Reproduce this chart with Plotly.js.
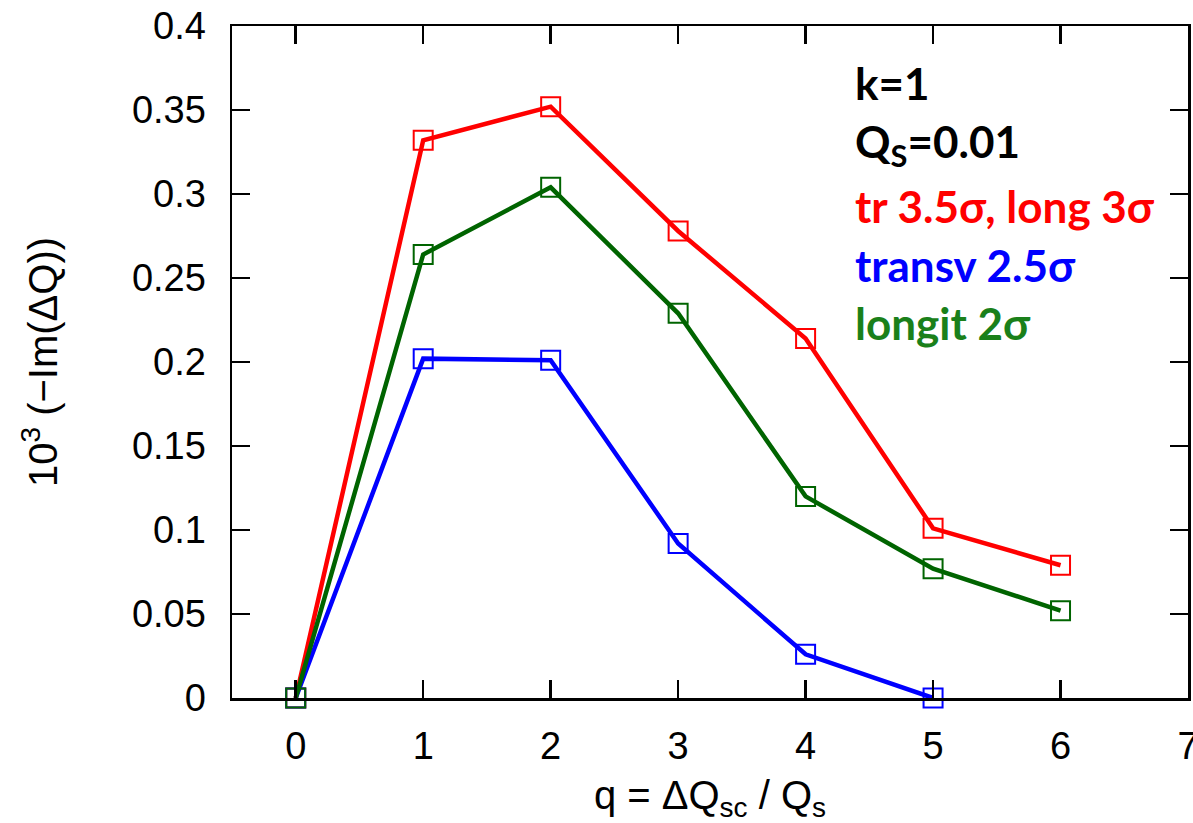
<!DOCTYPE html>
<html>
<head>
<meta charset="utf-8">
<script src="https://cdn.plot.ly/plotly-3.0.1.min.js"></script>
<style>html,body{margin:0;padding:0;background:#fff;}#chart{width:1193px;height:823px;}</style>
</head>
<body>
<div id="chart"></div>
<script>
const q = [0, 1, 2, 3, 4, 5, 6];
const redVals = [0, 0.332, 0.352, 0.278, 0.214, 0.101, 0.079];
const greenVals = [0, 0.264, 0.304, 0.229, 0.120, 0.077, 0.052];
const blueQ = [0, 1, 2, 3, 4, 5];
const blueVals = [0, 0.202, 0.201, 0.092, 0.026, 0.0];

const xTicks = [0, 1, 2, 3, 4, 5, 6, 7];
const yTicks = [0, 0.05, 0.1, 0.15, 0.2, 0.25, 0.3, 0.35, 0.4];
const yTickText = ['0', '0.05', '0.1', '0.15', '0.2', '0.25', '0.3', '0.35', '0.4'];

const labels = ['k=1', 'Q<sub>S</sub>=0.01', 'tr 3.5σ, long 3σ', 'transv 2.5σ', 'longit 2σ'];
const labelColors = ['#000000', '#000000', '#ff0000', '#0000ff', '#1a801a'];
const labelY = [0.915, 0.823, 0.732, 0.644, 0.558];

function series(x, y, color) {
  return {
    x: x, y: y, type: 'scatter', mode: 'lines+markers',
    line: {color: color, width: 4.5},
    marker: {symbol: 'square-open', size: 19, color: color, line: {color: color, width: 2}},
    showlegend: false, cliponaxis: false
  };
}

const data = [
  series(q, redVals, '#ff0000'),
  series(blueQ, blueVals, '#0000ff'),
  series(q, greenVals, '#006400')
];

const tickFont = {family: 'Liberation Sans, Arial, sans-serif', size: 38, color: '#000'};
const titleFont = {family: 'Liberation Sans, Arial, sans-serif', size: 40, color: '#000'};

const layout = {
  width: 1193, height: 823,
  margin: {l: 232, r: 5, t: 26, b: 125},
  paper_bgcolor: '#fff', plot_bgcolor: '#fff',
  font: tickFont,
  xaxis: {
    range: [-0.5, 7], tickvals: xTicks, ticktext: xTicks.map(String),
    ticks: 'inside', ticklen: 18, tickwidth: 2.5, tickcolor: '#000',
    showline: true, linewidth: 2.5, linecolor: '#000', mirror: 'ticks',
    showgrid: false, zeroline: false, tickfont: tickFont, ticklabelstandoff: 13,
    ticklabeloverflow: 'allow',
    title: {text: 'q = ΔQ<sub>sc</sub> / Q<sub>s</sub>', font: titleFont, standoff: 20}
  },
  yaxis: {
    range: [0, 0.4], tickvals: yTicks, ticktext: yTickText,
    ticks: 'inside', ticklen: 18, tickwidth: 2.5, tickcolor: '#000',
    showline: true, linewidth: 2.5, linecolor: '#000', mirror: 'ticks',
    showgrid: false, zeroline: false, tickfont: tickFont, ticklabelstandoff: 16,
    title: {text: '10<sup>3</sup> (−Im(ΔQ))', font: titleFont, standoff: 62}
  },
  annotations: labels.map((t, i) => ({
    text: '<b>' + t + '</b>', xref: 'paper', yref: 'paper',
    x: 0.6496, y: labelY[i], xanchor: 'left', yanchor: 'middle', showarrow: false,
    font: {family: 'Lato, Open Sans, sans-serif', size: 44, color: labelColors[i]}
  }))
};

Plotly.newPlot('chart', data, layout, {displayModeBar: false, staticPlot: true});
</script>
</body>
</html>
